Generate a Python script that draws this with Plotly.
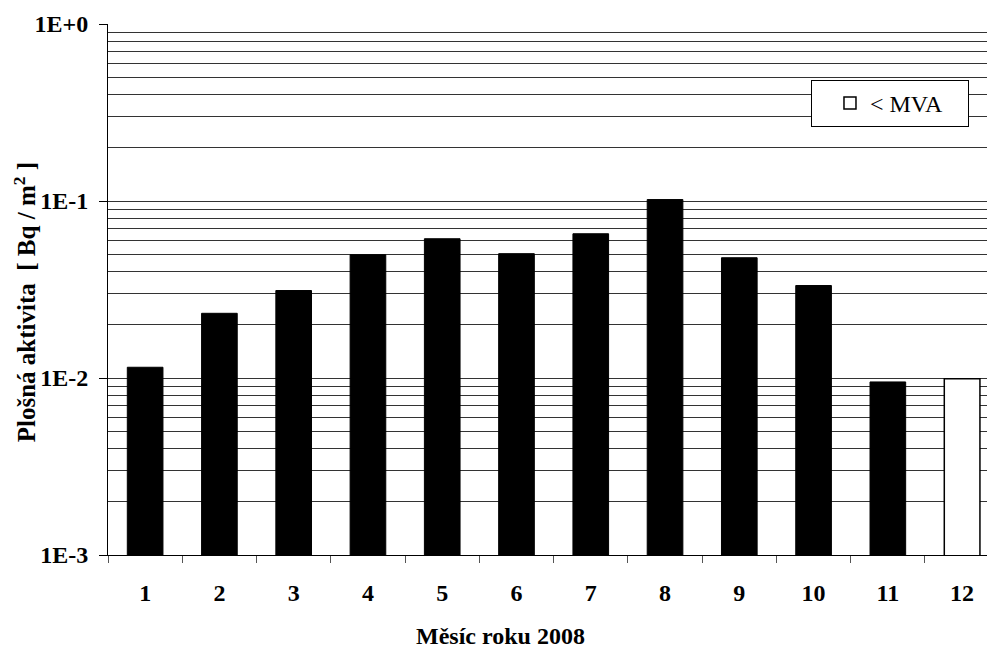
import plotly.graph_objects as go

months = ["1", "2", "3", "4", "5", "6", "7", "8", "9", "10", "11", "12"]
activity = [0.0115, 0.0232, 0.0312, 0.0497, 0.0612, 0.0504, 0.0653, 0.1019, 0.0478, 0.0333, 0.0095, 0.0099]
below_mva = [False] * 11 + [True]

y_tickvals = [0.001, 0.01, 0.1, 1]
y_ticktext = ["1E-3", "1E-2", "1E-1", "1E+0"]
minor_vals = [m * 10.0 ** e for e in (-3, -2, -1) for m in range(2, 10)]

x_title = "<b>Měsíc roku 2008</b>"
y_title = "<b>Plošná aktivita  [ Bq / m<sup>2</sup> ]</b>"
legend_label = "&lt; MVA"

font_family = "Liberation Serif, Times New Roman, serif"

measured_x = [m for m, b in zip(months, below_mva) if not b]
measured_y = [v for v, b in zip(activity, below_mva) if not b]
mva_x = [m for m, b in zip(months, below_mva) if b]
mva_y = [v for v, b in zip(activity, below_mva) if b]

fig = go.Figure()
fig.add_trace(go.Bar(
    x=measured_x, y=measured_y, width=0.48,
    marker=dict(color="black", line=dict(color="black", width=1)),
    showlegend=False, name="měřeno",
))
fig.add_trace(go.Bar(
    x=mva_x, y=mva_y, width=0.48,
    marker=dict(color="white", line=dict(color="black", width=1.5)),
    showlegend=True, name=legend_label,
))

fig.update_layout(
    width=987, height=648,
    margin=dict(l=108, r=0, t=24, b=93),
    paper_bgcolor="white", plot_bgcolor="white",
    barmode="overlay",
    font=dict(family=font_family, color="black", size=24),
    legend=dict(
        x=0.9795, xanchor="right", y=0.8945, yanchor="top",
        bordercolor="black", borderwidth=1, bgcolor="white",
        font=dict(family=font_family, size=24, color="black"),
        orientation="h", entrywidth=93, indentation=18,
    ),
    xaxis=dict(
        type="category", categoryorder="array", categoryarray=months,
        range=[-0.5, 11.335], automargin=False,
        tickson="boundaries", ticks="outside", ticklen=7, tickcolor="#555",
        showline=True, linecolor="black", linewidth=1,
        showgrid=False, zeroline=False,
        tickfont=dict(family=font_family, size=24, color="black", weight="bold"),
        ticklabelstandoff=16,
    ),
    yaxis=dict(
        type="log", range=[-3, 0], automargin=False,
        tickmode="array", tickvals=y_tickvals, ticktext=y_ticktext,
        ticks="outside", ticklen=8, tickcolor="black",
        showline=True, linecolor="black", linewidth=1,
        showgrid=True, gridcolor="#333", gridwidth=1,
        zeroline=False,
        tickfont=dict(family=font_family, size=24, color="black", weight="bold"),
        ticklabelstandoff=6,
        minor=dict(tickmode="array", tickvals=minor_vals, showgrid=True,
                   gridcolor="#333", gridwidth=1, ticks=""),
    ),
    annotations=[
        dict(text=x_title, xref="paper", yref="paper", x=0.446, y=-0.1525,
             xanchor="center", yanchor="middle", showarrow=False,
             font=dict(family=font_family, size=24, color="black")),
        dict(text=y_title, xref="paper", yref="paper", x=-0.0944, y=0.476,
             xanchor="center", yanchor="middle", showarrow=False, textangle=-90,
             font=dict(family=font_family, size=25, color="black")),
    ],
)

fig.write_html(
    "out.html",
    config={"displayModeBar": False},
    post_script="document.body.style.margin='0';document.body.style.overflow='hidden';",
)
